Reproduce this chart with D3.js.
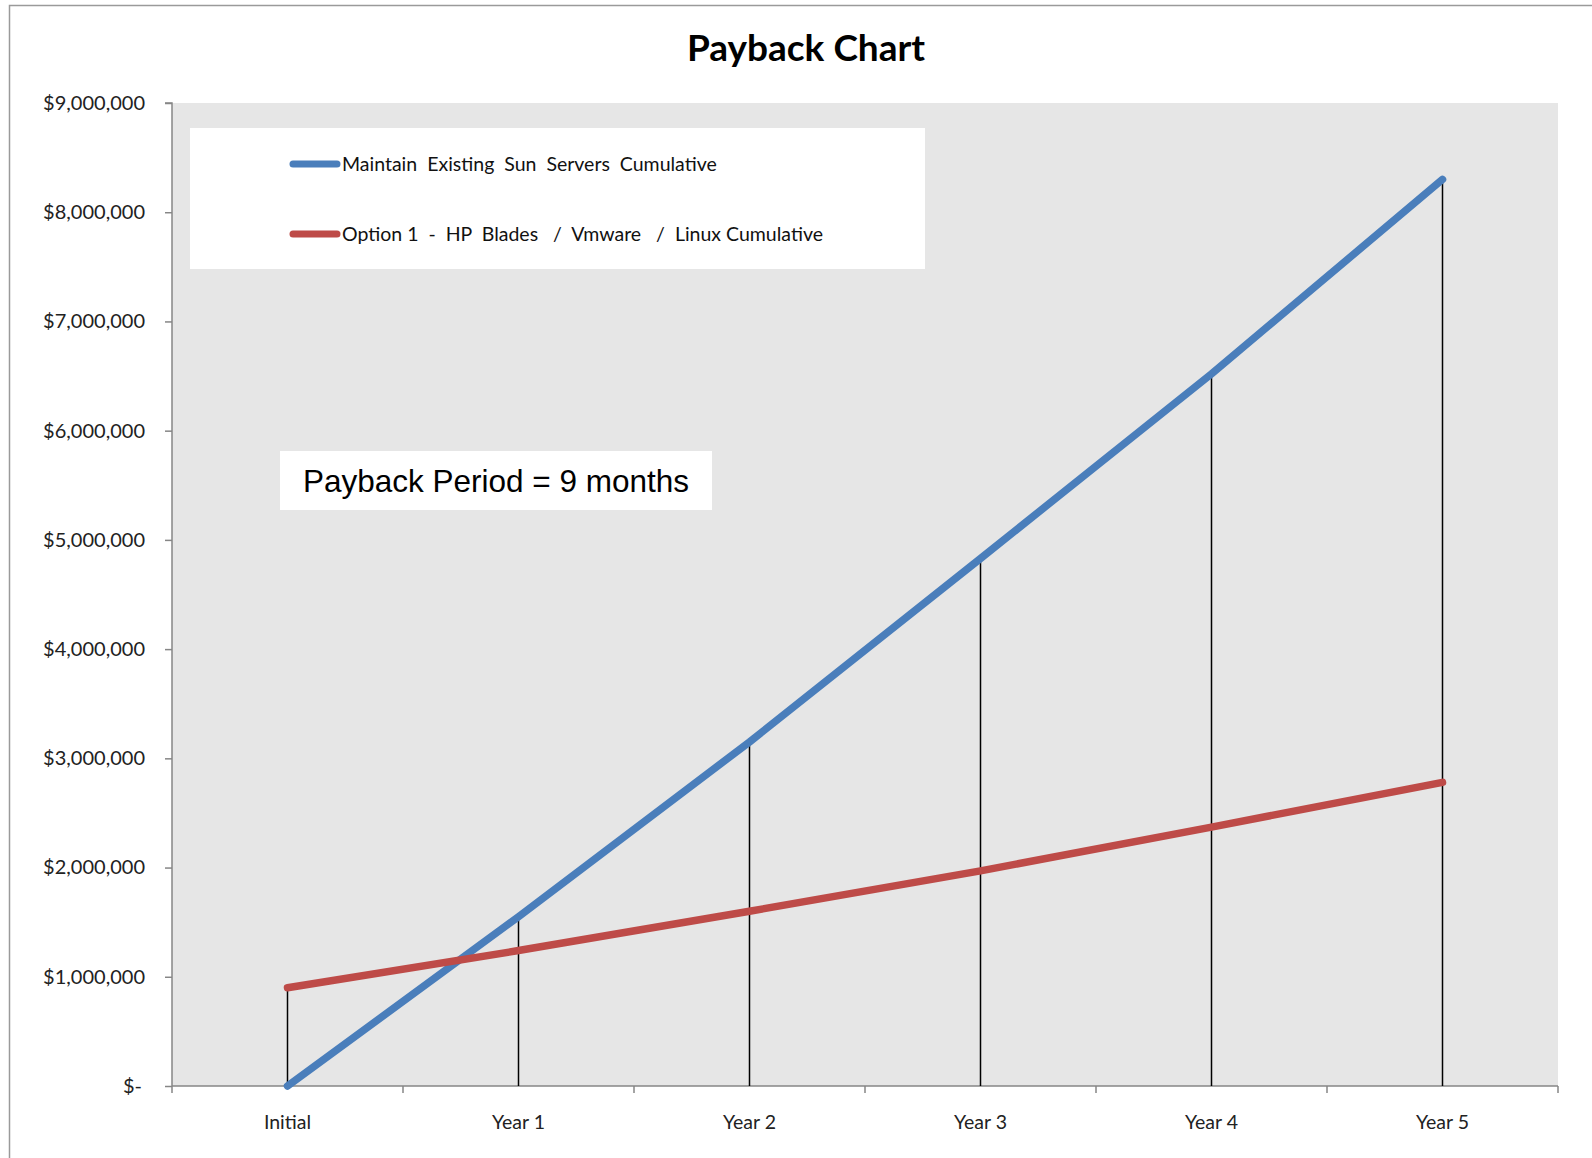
<!DOCTYPE html>
<html>
<head>
<meta charset="utf-8">
<script src="https://cdn.jsdelivr.net/npm/d3@7"></script>
<style>
  body { margin: 0; background: #fff; }
  svg text { font-family: Lato, "Open Sans", sans-serif; }
</style>
</head>
<body>
<div id="chart"></div>
<script>
var categories = ['Initial', 'Year 1', 'Year 2', 'Year 3', 'Year 4', 'Year 5'];
var sunServers = [0, 1550000, 3150000, 4830000, 6520000, 8300000];
var hpBlades = [900000, 1240000, 1600000, 1970000, 2370000, 2780000];
var seriesNames = ['Maintain  Existing  Sun  Servers  Cumulative', 'Option 1  -  HP  Blades   /  Vmware   /  Linux Cumulative'];
var yTicks = [0, 1000000, 2000000, 3000000, 4000000, 5000000, 6000000, 7000000, 8000000, 9000000];
var note = 'Payback Period = 9 months';

var W = 1592, H = 1158;
var mLeft = 172, mRight = 1558, mTop = 103, mBottom = 1086;

var svg = d3.select('#chart').append('svg').attr('width', W).attr('height', H);

// outer frame
svg.append('rect').attr('x', 9.5).attr('y', 5.5).attr('width', W).attr('height', H)
  .attr('fill', '#fff').attr('stroke', '#9a9a9a').attr('stroke-width', 1.5);

var x = d3.scaleBand().domain(categories).range([mLeft, mRight]);
var y = d3.scaleLinear().domain([0, 9000000]).range([mBottom, mTop]);

svg.append('rect').attr('x', mLeft).attr('y', mTop).attr('width', mRight - mLeft).attr('height', mBottom - mTop)
  .attr('fill', '#e6e6e6');

// y axis
var yAxis = svg.append('g').attr('transform', 'translate(' + mLeft + ',0)')
  .call(d3.axisLeft(y).tickValues(yTicks).tickSize(7).tickPadding(20)
    .tickFormat(function(d) { return d === 0 ? '$-' : '$' + d3.format(',')(d); }));
yAxis.selectAll('line, path').attr('stroke', '#868686').attr('stroke-width', 1.5);
yAxis.select('.domain').attr('d', 'M-7,' + mTop + 'H0V' + mBottom);
yAxis.selectAll('text').attr('font-size', 20).attr('fill', '#222')
  .style('font-family', 'Lato, sans-serif');
yAxis.selectAll('.tick').filter(function(d) { return d === 0; }).select('text').attr('dx', -3);

// x axis with ticks at band edges
var xAxis = svg.append('g').attr('transform', 'translate(0,' + mBottom + ')')
  .call(d3.axisBottom(x).tickSize(0).tickPadding(29));
xAxis.select('.domain').attr('stroke', '#868686').attr('stroke-width', 1.5)
  .attr('d', 'M' + mLeft + ',0H' + mRight);
xAxis.selectAll('text').attr('font-size', 19.5).attr('fill', '#222')
  .style('font-family', 'Lato, sans-serif');
var edges = categories.map(function(c) { return x(c); }).concat([mRight]);
svg.append('g').selectAll('line').data(edges).enter().append('line')
  .attr('x1', function(d) { return d; }).attr('x2', function(d) { return d; })
  .attr('y1', mBottom).attr('y2', mBottom + 7)
  .attr('stroke', '#868686').attr('stroke-width', 1.5);

var cx = function(i) { return x(categories[i]) + x.bandwidth() / 2; };

// drop lines from the higher value to the axis
svg.append('g').selectAll('line').data(categories).enter().append('line')
  .attr('x1', function(d, i) { return cx(i); }).attr('x2', function(d, i) { return cx(i); })
  .attr('y1', function(d, i) { return y(Math.max(sunServers[i], hpBlades[i])); })
  .attr('y2', mBottom)
  .attr('stroke', '#000').attr('stroke-width', 1.5);

var line = d3.line().x(function(d, i) { return cx(i); }).y(function(d) { return y(d); });
var colours = ['#4a7ebb', '#be4b48'];
[sunServers, hpBlades].forEach(function(s, k) {
  svg.append('path').datum(s).attr('d', line).attr('fill', 'none')
    .attr('stroke', colours[k]).attr('stroke-width', 7.5)
    .attr('stroke-linecap', 'round').attr('stroke-linejoin', 'round');
});

// legend
svg.append('rect').attr('x', 190).attr('y', 128).attr('width', 735).attr('height', 141).attr('fill', '#fff');
seriesNames.forEach(function(n, k) {
  var ly = 164 + k * 70;
  svg.append('line').attr('x1', 293).attr('x2', 337).attr('y1', ly).attr('y2', ly)
    .attr('stroke', colours[k]).attr('stroke-width', 7).attr('stroke-linecap', 'round');
  svg.append('text').attr('x', 342).attr('y', ly + 7).attr('font-size', 19.5).attr('fill', '#111')
    .style('white-space', 'pre').attr('xml:space', 'preserve').text(n);
});

// title
svg.append('text').attr('x', 806).attr('y', 61).attr('text-anchor', 'middle')
  .attr('font-size', 37).attr('font-weight', 'bold').attr('fill', '#000').text('Payback Chart');

// annotation
svg.append('rect').attr('x', 280).attr('y', 451).attr('width', 432).attr('height', 59).attr('fill', '#fff');
svg.append('text').attr('x', 496).attr('y', 492).attr('text-anchor', 'middle')
  .attr('font-size', 31.5).attr('fill', '#000')
  .style('font-family', '"Liberation Sans", Arial, sans-serif').text(note);
</script>
</body>
</html>
